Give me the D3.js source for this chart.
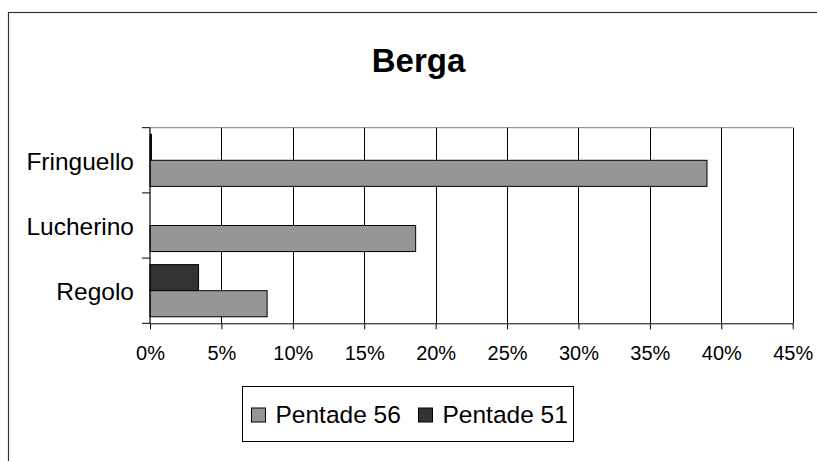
<!DOCTYPE html>
<html>
<head>
<meta charset="utf-8">
<script src="https://cdn.jsdelivr.net/npm/d3@7"></script>
<style>
  html, body { margin: 0; padding: 0; background: #fff; }
  svg { display: block; font-family: Arial, "Liberation Sans", sans-serif; }
</style>
</head>
<body>
<svg id="chart" width="817" height="461"></svg>
<script>
// Share of catches per species (%) at the Berga station
const categories = ["Fringuello", "Lucherino", "Regolo"];
const seriesNames = ["Pentade 51", "Pentade 56"];
const pentade56 = [39.0, 18.6, 8.2];
const pentade51 = [0.1, 0, 3.4];
const xTicks = [0, 5, 10, 15, 20, 25, 30, 35, 40, 45];
const colors = { "Pentade 56": "#969696", "Pentade 51": "#333333" };
const legendOrder = ["Pentade 56", "Pentade 51"];

const svg = d3.select("#chart");

// outer chart frame
svg.append("rect")
  .attr("x", 8.5).attr("y", 12.5)
  .attr("width", 830).attr("height", 480)
  .attr("fill", "none").attr("stroke", "#333").attr("stroke-width", 1.2);

// title
svg.append("text")
  .attr("x", 418.5).attr("y", 72)
  .attr("text-anchor", "middle")
  .attr("font-weight", "bold")
  .attr("font-size", 33)
  .text("Berga");

const plot = { left: 150, right: 792.7, top: 127.7, bottom: 323.3 };

const x = d3.scaleLinear().domain([0, 45]).range([plot.left, plot.right]);
const y = d3.scaleBand().domain(categories).range([plot.top, plot.bottom]).padding(0);
const ySeries = d3.scaleBand().domain(seriesNames).range([0, y.bandwidth()])
  .paddingInner(0).paddingOuter(0.25);

// plot area top edge
svg.append("line")
  .attr("x1", plot.left).attr("x2", plot.right)
  .attr("y1", plot.top).attr("y2", plot.top)
  .attr("stroke", "#808080").attr("stroke-width", 1);

// vertical gridlines
svg.append("g").selectAll("line")
  .data(xTicks.filter(d => d > 0))
  .join("line")
  .attr("x1", d => Math.round(x(d)) + 0.5).attr("x2", d => Math.round(x(d)) + 0.5)
  .attr("y1", plot.top).attr("y2", plot.bottom)
  .attr("stroke", "#000").attr("stroke-width", 1);

// bars
const rows = categories.map((c, i) => ({ cat: c, values: { "Pentade 56": pentade56[i], "Pentade 51": pentade51[i] } }));
const gBars = svg.append("g");
rows.forEach(r => {
  seriesNames.forEach(s => {
    const v = r.values[s];
    if (v <= 0) return;
    gBars.append("rect")
      .attr("x", x(0))
      .attr("y", y(r.cat) + ySeries(s))
      .attr("width", x(v) - x(0))
      .attr("height", ySeries.bandwidth())
      .attr("fill", colors[s])
      .attr("stroke", "#000")
      .attr("stroke-width", 1);
  });
});

// x axis
const xAxis = svg.append("g")
  .attr("transform", `translate(0,${plot.bottom})`)
  .call(d3.axisBottom(x).tickValues(xTicks).tickFormat(d => d + "%").tickSize(6).tickPadding(17).tickSizeOuter(0));
xAxis.select(".domain").attr("stroke", "#000");
xAxis.selectAll(".tick line").attr("stroke", "#000");
xAxis.selectAll("text").attr("font-size", 20).attr("font-family", "Arial, 'Liberation Sans', sans-serif").attr("fill", "#000");

// y axis line and category boundary ticks
svg.append("line")
  .attr("x1", plot.left).attr("x2", plot.left)
  .attr("y1", plot.top).attr("y2", plot.bottom)
  .attr("stroke", "#000").attr("stroke-width", 1.2);
const bounds = categories.map(c => y(c)).concat([plot.bottom]);
svg.append("g").selectAll("line")
  .data(bounds)
  .join("line")
  .attr("x1", plot.left - 8).attr("x2", plot.left)
  .attr("y1", d => d).attr("y2", d => d)
  .attr("stroke", "#000").attr("stroke-width", 1);

// category labels
svg.append("g").selectAll("text")
  .data(categories)
  .join("text")
  .attr("x", 134)
  .attr("y", d => y(d) + y.bandwidth() / 2 + 9.5)
  .attr("text-anchor", "end")
  .attr("font-size", 24.5)
  .text(d => d);

// legend
const legend = svg.append("g");
legend.append("rect")
  .attr("x", 242.5).attr("y", 386.5)
  .attr("width", 331).attr("height", 55)
  .attr("fill", "#fff").attr("stroke", "#000").attr("stroke-width", 1);
const legendX = [251.5, 418.5];
legendOrder.forEach((s, i) => {
  legend.append("rect")
    .attr("x", legendX[i]).attr("y", 408)
    .attr("width", 14).attr("height", 14)
    .attr("fill", colors[s]).attr("stroke", "#000").attr("stroke-width", 1);
  legend.append("text")
    .attr("x", legendX[i] + 24).attr("y", 423)
    .attr("font-size", 24.5)
    .text(s);
});
</script>
</body>
</html>
